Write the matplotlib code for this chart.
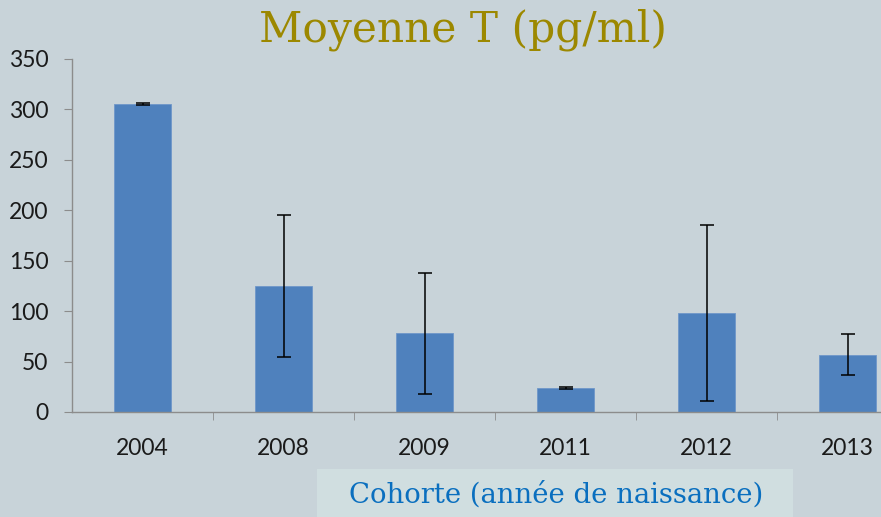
import matplotlib
matplotlib.use("Agg")
import matplotlib.pyplot as plt
import numpy as np
from matplotlib.patches import Rectangle

categories = ["2004", "2008", "2009", "2011", "2012", "2013"]
means = [305, 125, 78, 24, 98, 57]
errors = [1, 70, 60, 1, 87, 20]
yticks = [0, 50, 100, 150, 200, 250, 300, 350]

bg = "#c8d3d9"
fig = plt.figure(figsize=(8.81, 5.17), dpi=100, facecolor=bg)
ax = fig.add_axes([72/881, 1-412/517, 846/881, 353/517])
ax.set_facecolor(bg)

x = np.arange(len(categories))
ax.bar(x, means, width=0.40, color="#4f81bd", edgecolor="#6f97c9", linewidth=0.6,
       yerr=errors, error_kw=dict(ecolor="black", elinewidth=1.1, capsize=5, capthick=1.1))

ax.set_xlim(-0.5, len(categories) - 0.5)
ax.set_ylim(0, 350)
ax.set_yticks(yticks)
ax.set_yticklabels([str(v) for v in yticks], fontsize=16.5, family="Lato", color="#1a1a1a")
ax.set_xticks(x)
ax.set_xticklabels(categories, fontsize=16.5, family="Lato", color="#1a1a1a")
ax.tick_params(axis="x", which="major", length=0, pad=19)
ax.set_xticks(np.arange(0.5, len(categories) - 0.5, 1), minor=True)
ax.tick_params(axis="x", which="minor", length=6, color="#8c8c8c", direction="out")
ax.tick_params(axis="y", length=6, color="#8c8c8c", direction="out", pad=11)
for s in ["top", "right"]:
    ax.spines[s].set_visible(False)
for s in ["left", "bottom"]:
    ax.spines[s].set_color("#8c8c8c")
    ax.spines[s].set_linewidth(1.0)

fig.text(463/881, 1-30/517, "Moyenne T (pg/ml)", ha="center", va="center",
         fontsize=30.5, family="DejaVu Serif", color="#9c8800")

fig.patches.append(Rectangle((317/881, 0), (793-317)/881, (517-469)/517,
                             transform=fig.transFigure, facecolor="#d0dee0",
                             edgecolor="none", zorder=0))
fig.text(556/881, 1-495/517, "Cohorte (année de naissance)", ha="center", va="center",
         fontsize=19.8, family="DejaVu Serif", color="#0a6fbf")

fig.savefig("out.png", dpi=100, facecolor=bg)
